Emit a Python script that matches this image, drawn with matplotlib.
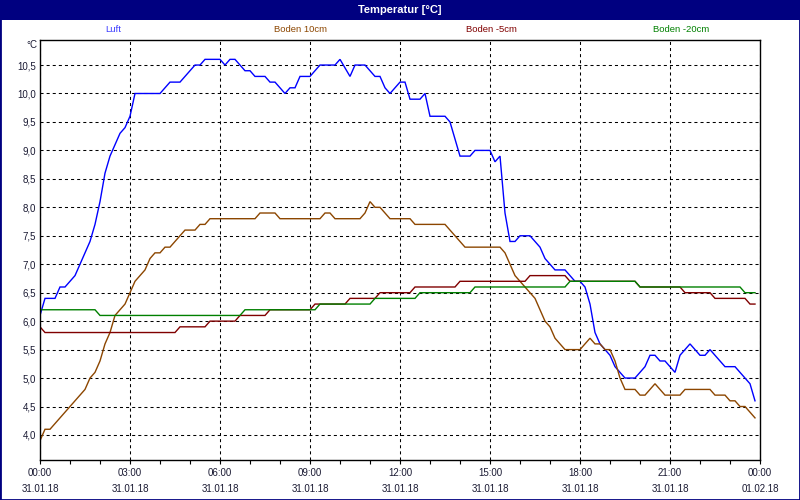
import matplotlib
matplotlib.use("Agg")
import matplotlib.pyplot as plt
import matplotlib.dates as mdates
from matplotlib.patches import Rectangle
from matplotlib.ticker import FuncFormatter
import pandas as pd

plt.rcParams['lines.scale_dashes'] = False
plt.rcParams['font.family'] = ['Liberation Sans', 'DejaVu Sans']

title = "Temperatur [°C]"
series_names = ["Luft", "Boden 10cm", "Boden -5cm", "Boden -20cm"]
series_colors = ["#0000ff", "#8c4600", "#800000", "#008000"]
label_colors = ["#3a3aff", "#8c4600", "#800000", "#008000"]

# 10-minute samples from 31.01.18 00:00 to 23:50
times = pd.date_range("2018-01-31 00:00", periods=144, freq="10min")

luft = [
    6.1, 6.4, 6.4, 6.4, 6.6, 6.6, 6.7, 6.8, 7.0, 7.2, 7.4, 7.7,
    8.1, 8.6, 8.9, 9.1, 9.3, 9.4, 9.6, 10.0, 10.0, 10.0, 10.0, 10.0,
    10.0, 10.1, 10.2, 10.2, 10.2, 10.3, 10.4, 10.5, 10.5, 10.6, 10.6, 10.6,
    10.6, 10.5, 10.6, 10.6, 10.5, 10.4, 10.4, 10.3, 10.3, 10.3, 10.2, 10.2,
    10.1, 10.0, 10.1, 10.1, 10.3, 10.3, 10.3, 10.4, 10.5, 10.5, 10.5, 10.5,
    10.6, 10.45, 10.3, 10.5, 10.5, 10.5, 10.4, 10.3, 10.3, 10.1, 10.0, 10.1,
    10.2, 10.2, 9.9, 9.9, 9.9, 10.0, 9.6, 9.6, 9.6, 9.6, 9.5, 9.2,
    8.9, 8.9, 8.9, 9.0, 9.0, 9.0, 9.0, 8.8, 8.9, 7.9, 7.4, 7.4,
    7.5, 7.5, 7.5, 7.4, 7.3, 7.1, 7.0, 6.9, 6.9, 6.9, 6.8, 6.7,
    6.7, 6.6, 6.3, 5.8, 5.6, 5.5, 5.4, 5.2, 5.1, 5.0, 5.0, 5.0,
    5.1, 5.2, 5.4, 5.4, 5.3, 5.3, 5.2, 5.1, 5.4, 5.5, 5.6, 5.5,
    5.4, 5.4, 5.5, 5.4, 5.3, 5.2, 5.2, 5.2, 5.1, 5.0, 4.9, 4.6,
]

boden_10 = [
    3.9, 4.1, 4.1, 4.2, 4.3, 4.4, 4.5, 4.6, 4.7, 4.8, 5.0, 5.1,
    5.3, 5.6, 5.8, 6.1, 6.2, 6.3, 6.5, 6.7, 6.8, 6.9, 7.1, 7.2,
    7.2, 7.3, 7.3, 7.4, 7.5, 7.6, 7.6, 7.6, 7.7, 7.7, 7.8, 7.8,
    7.8, 7.8, 7.8, 7.8, 7.8, 7.8, 7.8, 7.8, 7.9, 7.9, 7.9, 7.9,
    7.8, 7.8, 7.8, 7.8, 7.8, 7.8, 7.8, 7.8, 7.8, 7.9, 7.9, 7.8,
    7.8, 7.8, 7.8, 7.8, 7.8, 7.9, 8.1, 8.0, 8.0, 7.9, 7.8, 7.8,
    7.8, 7.8, 7.8, 7.7, 7.7, 7.7, 7.7, 7.7, 7.7, 7.7, 7.6, 7.5,
    7.4, 7.3, 7.3, 7.3, 7.3, 7.3, 7.3, 7.3, 7.3, 7.2, 7.0, 6.8,
    6.7, 6.6, 6.5, 6.4, 6.2, 6.0, 5.9, 5.7, 5.6, 5.5, 5.5, 5.5,
    5.5, 5.6, 5.7, 5.6, 5.6, 5.5, 5.5, 5.3, 5.0, 4.8, 4.8, 4.8,
    4.7, 4.7, 4.8, 4.9, 4.8, 4.7, 4.7, 4.7, 4.7, 4.8, 4.8, 4.8,
    4.8, 4.8, 4.8, 4.7, 4.7, 4.7, 4.6, 4.6, 4.5, 4.5, 4.4, 4.3,
]

boden_m5 = [
    5.9, 5.8, 5.8, 5.8, 5.8, 5.8, 5.8, 5.8, 5.8, 5.8, 5.8, 5.8,
    5.8, 5.8, 5.8, 5.8, 5.8, 5.8, 5.8, 5.8, 5.8, 5.8, 5.8, 5.8,
    5.8, 5.8, 5.8, 5.8, 5.9, 5.9, 5.9, 5.9, 5.9, 5.9, 6.0, 6.0,
    6.0, 6.0, 6.0, 6.0, 6.1, 6.1, 6.1, 6.1, 6.1, 6.1, 6.2, 6.2,
    6.2, 6.2, 6.2, 6.2, 6.2, 6.2, 6.2, 6.3, 6.3, 6.3, 6.3, 6.3,
    6.3, 6.3, 6.4, 6.4, 6.4, 6.4, 6.4, 6.4, 6.5, 6.5, 6.5, 6.5,
    6.5, 6.5, 6.5, 6.6, 6.6, 6.6, 6.6, 6.6, 6.6, 6.6, 6.6, 6.6,
    6.7, 6.7, 6.7, 6.7, 6.7, 6.7, 6.7, 6.7, 6.7, 6.7, 6.7, 6.7,
    6.7, 6.7, 6.8, 6.8, 6.8, 6.8, 6.8, 6.8, 6.8, 6.8, 6.7, 6.7,
    6.7, 6.7, 6.7, 6.7, 6.7, 6.7, 6.7, 6.7, 6.7, 6.7, 6.7, 6.7,
    6.6, 6.6, 6.6, 6.6, 6.6, 6.6, 6.6, 6.6, 6.6, 6.5, 6.5, 6.5,
    6.5, 6.5, 6.5, 6.4, 6.4, 6.4, 6.4, 6.4, 6.4, 6.4, 6.3, 6.3,
]

boden_m20 = [
    6.2, 6.2, 6.2, 6.2, 6.2, 6.2, 6.2, 6.2, 6.2, 6.2, 6.2, 6.2,
    6.1, 6.1, 6.1, 6.1, 6.1, 6.1, 6.1, 6.1, 6.1, 6.1, 6.1, 6.1,
    6.1, 6.1, 6.1, 6.1, 6.1, 6.1, 6.1, 6.1, 6.1, 6.1, 6.1, 6.1,
    6.1, 6.1, 6.1, 6.1, 6.1, 6.2, 6.2, 6.2, 6.2, 6.2, 6.2, 6.2,
    6.2, 6.2, 6.2, 6.2, 6.2, 6.2, 6.2, 6.2, 6.3, 6.3, 6.3, 6.3,
    6.3, 6.3, 6.3, 6.3, 6.3, 6.3, 6.3, 6.4, 6.4, 6.4, 6.4, 6.4,
    6.4, 6.4, 6.4, 6.4, 6.5, 6.5, 6.5, 6.5, 6.5, 6.5, 6.5, 6.5,
    6.5, 6.5, 6.5, 6.6, 6.6, 6.6, 6.6, 6.6, 6.6, 6.6, 6.6, 6.6,
    6.6, 6.6, 6.6, 6.6, 6.6, 6.6, 6.6, 6.6, 6.6, 6.6, 6.7, 6.7,
    6.7, 6.7, 6.7, 6.7, 6.7, 6.7, 6.7, 6.7, 6.7, 6.7, 6.7, 6.7,
    6.6, 6.6, 6.6, 6.6, 6.6, 6.6, 6.6, 6.6, 6.6, 6.6, 6.6, 6.6,
    6.6, 6.6, 6.6, 6.6, 6.6, 6.6, 6.6, 6.6, 6.6, 6.5, 6.5, 6.5,
]

y_ticks = [4.0, 4.5, 5.0, 5.5, 6.0, 6.5, 7.0, 7.5, 8.0, 8.5, 9.0, 9.5, 10.0, 10.5]

W, H = 800, 500
fig = plt.figure(figsize=(8, 5), dpi=100, facecolor="white")
ax = fig.add_axes([40 / W, 1 - 460 / H, 720 / W, 420 / H])

all_series = [luft, boden_10, boden_m5, boden_m20]
for vals, col in zip(all_series, series_colors):
    ax.plot(times, vals, color=col, lw=1.0, solid_joinstyle="miter")

ax.set_xlim(pd.Timestamp("2018-01-31 00:00"), pd.Timestamp("2018-02-01 00:00"))
ax.set_ylim(3.56, 10.94)

ax.set_yticks(y_ticks)
ax.yaxis.set_major_formatter(FuncFormatter(lambda v, p: f"{v:.1f}".replace(".", ",")))
ax.xaxis.set_major_locator(mdates.HourLocator(byhour=range(0, 24, 3)))
ax.xaxis.set_minor_locator(mdates.HourLocator())
ax.xaxis.set_major_formatter(mdates.DateFormatter("%H:%M\n%d.%m.%y"))

ax.grid(True, which="major", color="black", linestyle=(0, (2.2, 2.2)), linewidth=0.75)
ax.set_axisbelow(True)
for s in ax.spines.values():
    s.set_linewidth(1.0)
    s.set_color("black")

ax.tick_params(axis="y", length=0, pad=3, labelsize=7, labelcolor="#1a1a33")
ax.tick_params(axis="x", which="both", direction="out", length=3, width=0.8,
               pad=3, labelsize=7, labelcolor="#1a1a33")

for t in ax.xaxis.get_major_ticks():
    t.label1.set_linespacing(1.75)

# title bar
fig.patches.append(Rectangle((0, 1 - 20 / H), 1, 20 / H, transform=fig.transFigure,
                             facecolor="#000080", edgecolor="none", zorder=0))
fig.text(0.5, 1 - 10 / H, title, ha="center", va="center", color="white",
         fontsize=8, fontweight="bold")

# series labels
label_x = [113, 301, 491, 681]
for name, lx, col in zip(series_names, label_x, label_colors):
    fig.text(lx / W, 1 - 30 / H, name, ha="center", va="center", color=col, fontsize=6.8)

fig.text(37 / W, 1 - 45 / H, "°C", ha="right", va="center", fontsize=7, color="#1a1a33")

# outer border
fig.patches.append(Rectangle((0, 0), 1, 1, transform=fig.transFigure,
                             facecolor="none", edgecolor="#000080", lw=2.0, zorder=5))

fig.savefig("out.png", dpi=100, facecolor="white")
